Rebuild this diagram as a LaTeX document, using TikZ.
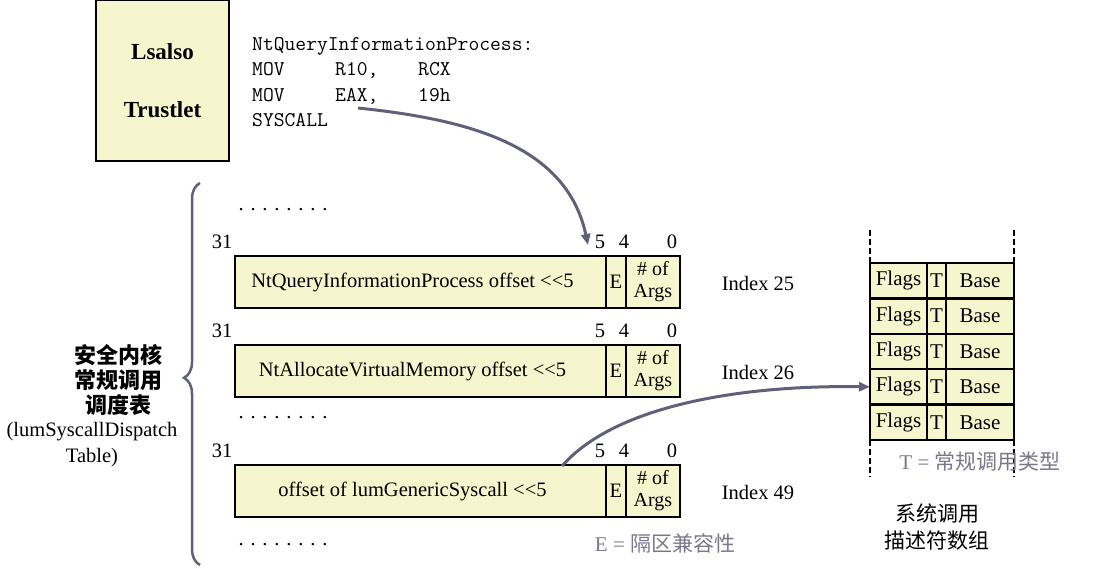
\documentclass[tikz,border=0pt]{standalone}
\usepackage{fontspec}
\setmainfont{Liberation Serif}
\newfontfamily\cjk{Noto Sans CJK SC}
\usetikzlibrary{arrows.meta,positioning,decorations.pathreplacing}

\definecolor{cellfill}{RGB}{246,246,206}
\definecolor{arrowgray}{RGB}{96,96,122}
\definecolor{notegray}{RGB}{120,120,138}

\tikzset{
	cell/.style={draw=black,line width=2.5pt,fill=cellfill,inner sep=0pt,outer sep=0pt,minimum height=52pt},
	callarrow/.style={draw=arrowgray,line width=3pt,-{Triangle[length=11pt,width=9pt]}},
	code/.style={font=\ttfamily\fontsize{21}{22}\selectfont,inner sep=0pt,anchor=base west},
	bits/.style={inner sep=0pt},
	note/.style={text=notegray,font=\fontsize{21}{24}\selectfont},
}

\begin{document}
\begin{tikzpicture}[x=1pt,y=1pt,font=\fontsize{20.5}{24}\selectfont]

		\useasboundingbox (0,0) rectangle (1111,-568);

		% trustlet and its code
		\node [cell,minimum width=133pt,minimum height=161pt,anchor=north west,align=center,
			font=\bfseries\fontsize{23}{58}\selectfont] (tl) at (96,0) {Lsalso\\Trustlet};

		\node [code] (c0) at (252,-50) {NtQueryInformationProcess:};
		\node [code] (c1) at (252,-75) {\makebox[83pt][l]{MOV}\makebox[83pt][l]{R10,}RCX};
		\node [code] (c2) at (252,-101) {\makebox[83pt][l]{MOV}\makebox[83pt][l]{EAX,}19h};
		\node [code] (c3) at (252,-126) {SYSCALL};

		\coordinate (src) at (358,-108);
		\coordinate (dst) at (588,-245);

		% dispatch table entries
		\foreach \y/\txt/\idx/\n in {256/NtQueryInformationProcess offset <{}<5/25/1,
				345/NtAllocateVirtualMemory offset <{}<5/26/2,
				465/offset of lumGenericSyscall <{}<5/49/3}
		{
			\node [cell,minimum width=371pt,anchor=north west] (off\n) at (235,-\y) {\hspace*{-16pt}\txt};
			\node [cell,minimum width=20pt,right=0pt of off\n] (e\n) {E};
			\node [cell,minimum width=54pt,right=0pt of e\n,align=center,
				font=\fontsize{20}{22}\selectfont] (arg\n) {\# of\\Args};
			\node [bits] (hi\n) at (222,{-\y+14}) {31};
			\node [bits] (five\n) at (600,{-\y+14}) {5};
			\node [bits] (four\n) at (624,{-\y+14}) {4};
			\node [bits] (zero\n) at (672,{-\y+14}) {0};
			\node (ix\n) at (758,{-\y-27}) {Index \idx};
		}

		\node (dotsA) at (283,-210) {. . . . . . . .};
		\node (dotsB) at (283,-418) {. . . . . . . .};
		\node (dotsC) at (283,-545) {. . . . . . . .};

		\draw [decorate,decoration={brace,amplitude=16pt,aspect=0.49},line width=2.5pt,draw=arrowgray]
			(200,-565) -- (200,-183);

		\node [align=center,font=\cjk\bfseries\fontsize{22}{25}\selectfont] (kt) at (118,-380)
			{安全内核\\常规调用\\调度表};
		\node [align=center,font=\fontsize{20.5}{26}\selectfont] (kn) at (92,-445)
			{(lumSyscallDispatch\\Table)};

		\node [note] (enote) at (665,-543) {E = {\cjk 隔区兼容性}};

		% descriptor array
		\foreach \i in {1,...,5}
		{
			\node [cell,minimum width=57pt,minimum height=35.4pt,anchor=north west,
				font=\fontsize{21}{24}\selectfont] (fl\i) at (870,{-263-(\i-1)*35.4}) {Flags};
			\node [cell,minimum width=19pt,minimum height=35.4pt,right=0pt of fl\i,
				font=\fontsize{21}{24}\selectfont] (t\i) {T};
			\node [cell,minimum width=68pt,minimum height=35.4pt,right=0pt of t\i,
				font=\fontsize{21}{24}\selectfont] (b\i) {Base};
		}

		\draw [line width=2.5pt,dash pattern=on 6pt off 3pt] (fl1.north west) -- ++(0,35);
		\draw [line width=2.5pt,dash pattern=on 6pt off 3pt] (b1.north east) -- ++(0,35);
		\draw [line width=2.5pt,dash pattern=on 6pt off 3pt] (fl5.south west) -- ++(0,-37);
		\draw [line width=2.5pt,dash pattern=on 6pt off 3pt] (b5.south east) -- ++(0,-37);

		\node [note] (tnote) at (980,-462) {T = {\cjk 常规调用类型}};
		\node [align=center,font=\cjk\fontsize{21}{27}\selectfont] (arr) at (937,-527)
			{系统调用\\描述符数组};

		% calls
		\draw [callarrow] (src) to[out=-6,in=102] (dst);
		\coordinate (gs) at (562,-466);
		\draw [callarrow] (gs) .. controls (620,-400) and (760,-385) .. (fl4.west);
\end{tikzpicture}
\end{document}
